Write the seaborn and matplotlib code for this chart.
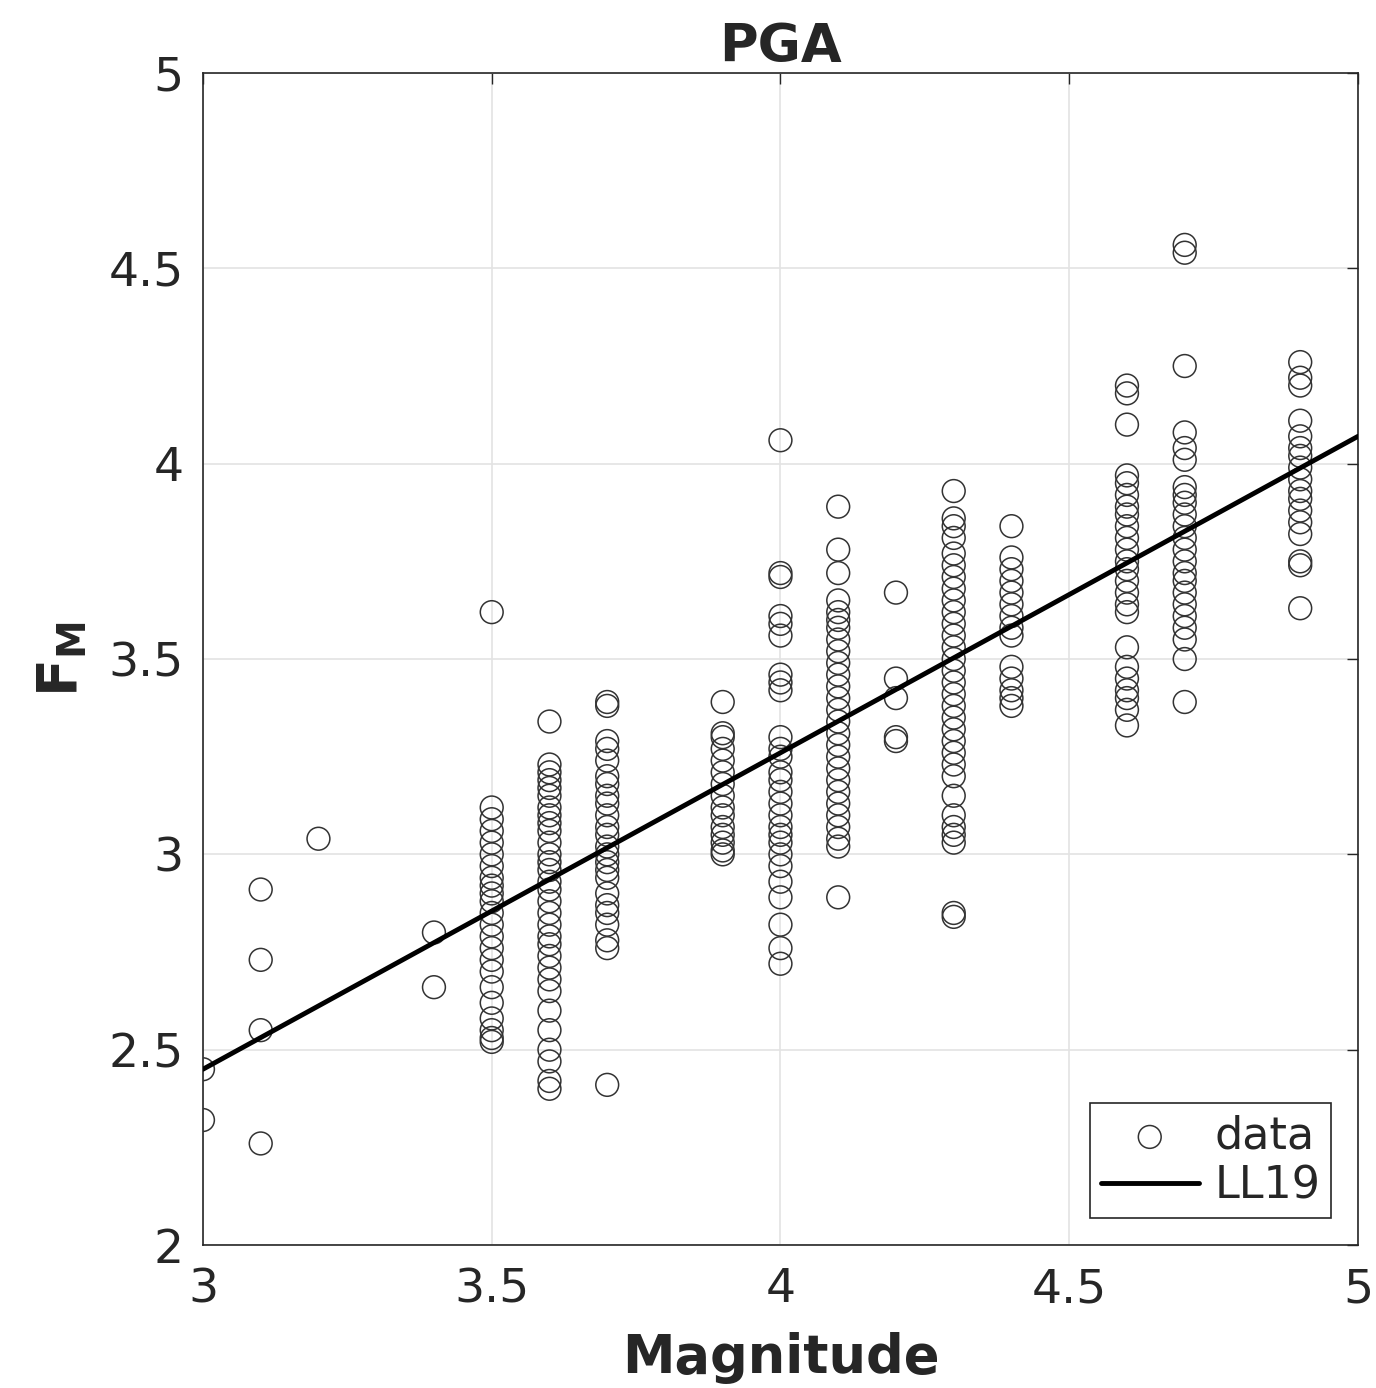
import numpy as np
import pandas as pd
import matplotlib
matplotlib.use("Agg")
import matplotlib.pyplot as plt
import seaborn as sns

# ---- data ----
mags = [3.0, 3.1, 3.2, 3.4, 3.5, 3.6, 3.7, 3.9, 4.0, 4.1, 4.2, 4.3, 4.4, 4.6, 4.7, 4.9]
fm_30 = [2.45, 2.32]
fm_31 = [2.91, 2.73, 2.55, 2.26]
fm_32 = [3.04]
fm_34 = [2.80, 2.66]
fm_35 = [3.62, 3.12, 3.09, 3.06, 3.03, 3.00, 2.97, 2.94, 2.92, 2.90, 2.88, 2.85, 2.82,
         2.79, 2.76, 2.73, 2.70, 2.66, 2.62, 2.58, 2.55, 2.53, 2.52]
fm_36 = [3.34, 3.23, 3.21, 3.19, 3.17, 3.15, 3.12, 3.10, 3.08, 3.06, 3.03, 3.00, 2.98,
         2.96, 2.93, 2.91, 2.88, 2.85, 2.82, 2.79, 2.77, 2.74, 2.71, 2.68, 2.65, 2.60,
         2.55, 2.50, 2.47, 2.42, 2.40]
fm_37 = [3.39, 3.38, 3.29, 3.27, 3.24, 3.20, 3.18, 3.15, 3.13, 3.10, 3.07, 3.05, 3.02,
         3.00, 2.98, 2.96, 2.94, 2.90, 2.87, 2.85, 2.82, 2.78, 2.76, 2.41]
fm_39 = [3.39, 3.31, 3.30, 3.27, 3.24, 3.21, 3.18, 3.15, 3.12, 3.10, 3.07, 3.05, 3.03,
         3.01, 3.00]
fm_40 = [4.06, 3.72, 3.71, 3.61, 3.59, 3.56, 3.46, 3.44, 3.42, 3.30, 3.27, 3.25, 3.21,
         3.19, 3.16, 3.13, 3.10, 3.07, 3.05, 3.03, 3.00, 2.97, 2.93, 2.89, 2.82, 2.76, 2.72]
fm_41 = [3.89, 3.78, 3.72, 3.65, 3.62, 3.60, 3.58, 3.55, 3.52, 3.49, 3.46, 3.43, 3.40,
         3.37, 3.34, 3.31, 3.28, 3.25, 3.22, 3.19, 3.16, 3.13, 3.10, 3.07, 3.04, 3.02, 2.89]
fm_42 = [3.67, 3.45, 3.40, 3.30, 3.29]
fm_43 = [3.93, 3.86, 3.84, 3.81, 3.77, 3.74, 3.71, 3.68, 3.65, 3.62, 3.59, 3.56, 3.53,
         3.50, 3.47, 3.44, 3.41, 3.38, 3.35, 3.32, 3.29, 3.26, 3.23, 3.20, 3.15, 3.10,
         3.07, 3.05, 3.03, 2.85, 2.84]
fm_44 = [3.84, 3.76, 3.73, 3.70, 3.67, 3.64, 3.61, 3.58, 3.56, 3.48, 3.45, 3.42, 3.40, 3.38]
fm_46 = [4.20, 4.18, 4.10, 3.97, 3.95, 3.92, 3.89, 3.87, 3.84, 3.81, 3.78, 3.75, 3.73,
         3.70, 3.67, 3.64, 3.62, 3.53, 3.48, 3.45, 3.42, 3.40, 3.37, 3.33]
fm_47 = [4.56, 4.54, 4.25, 4.08, 4.04, 4.01, 3.94, 3.92, 3.90, 3.87, 3.84, 3.81, 3.78,
         3.75, 3.72, 3.70, 3.67, 3.64, 3.61, 3.58, 3.55, 3.50, 3.39]
fm_49 = [4.26, 4.22, 4.20, 4.11, 4.07, 4.04, 4.02, 3.99, 3.96, 3.93, 3.91, 3.88, 3.85,
         3.82, 3.75, 3.74, 3.63]
fm_cols = [fm_30, fm_31, fm_32, fm_34, fm_35, fm_36, fm_37, fm_39, fm_40, fm_41, fm_42,
           fm_43, fm_44, fm_46, fm_47, fm_49]

ll19_mag = [3.0, 5.0]
ll19_fm = [2.45, 4.07]

xticks = [3, 3.5, 4, 4.5, 5]
xticklabels = ["3", "3.5", "4", "4.5", "5"]
yticks = [2, 2.5, 3, 3.5, 4, 4.5, 5]
yticklabels = ["2", "2.5", "3", "3.5", "4", "4.5", "5"]

df = pd.DataFrame({
    "Magnitude": [m for m, col in zip(mags, fm_cols) for _ in col],
    "FM": [v for col in fm_cols for v in col],
})
line_df = pd.DataFrame({"Magnitude": ll19_mag, "FM": ll19_fm})

# ---- plot ----
sns.set_theme(style="whitegrid")
plt.rcParams["font.family"] = ["DejaVu Sans"]

fig = plt.figure(figsize=(13.76, 13.88), dpi=100)
ax = fig.add_axes([0.1475, 0.1030, 0.8394, 0.8444])

sns.scatterplot(data=df, x="Magnitude", y="FM", ax=ax, marker="o", s=270,
                facecolor="none", edgecolor="#333333", linewidth=1.1,
                label="data", zorder=3)
sns.lineplot(data=line_df, x="Magnitude", y="FM", ax=ax, color="black",
             linewidth=3.5, label="LL19", zorder=4)

ax.set_xlim(3, 5)
ax.set_ylim(2, 5)
ax.set_xticks(xticks)
ax.set_xticklabels(xticklabels)
ax.set_yticks(yticks)
ax.set_yticklabels(yticklabels)
ax.tick_params(axis="both", labelsize=34, colors="#262626", direction="in",
               length=8, width=1, top=True, right=True)
ax.tick_params(axis="x", pad=16)
ax.tick_params(axis="y", pad=14)
ax.grid(True, color="#e3e3e3", linewidth=1.2)
ax.set_facecolor("white")
for sp in ax.spines.values():
    sp.set_color("#262626")
    sp.set_linewidth(1.2)

ax.set_title("PGA", fontsize=38, fontweight="bold", pad=8)
ax.set_xlabel("Magnitude", fontsize=38, fontweight="bold", labelpad=14)
ax.set_ylabel(r"$\mathbf{F_M}$", fontsize=40, fontweight="bold", labelpad=14)

leg = ax.legend(loc="lower right", fontsize=32, frameon=True, fancybox=False,
                edgecolor="#262626", framealpha=1, borderpad=0.25,
                handlelength=2.2, handletextpad=0.35, labelspacing=0.15,
                borderaxespad=0.6)
leg.get_frame().set_linewidth(1.2)

fig.savefig("out.png", dpi=100)
